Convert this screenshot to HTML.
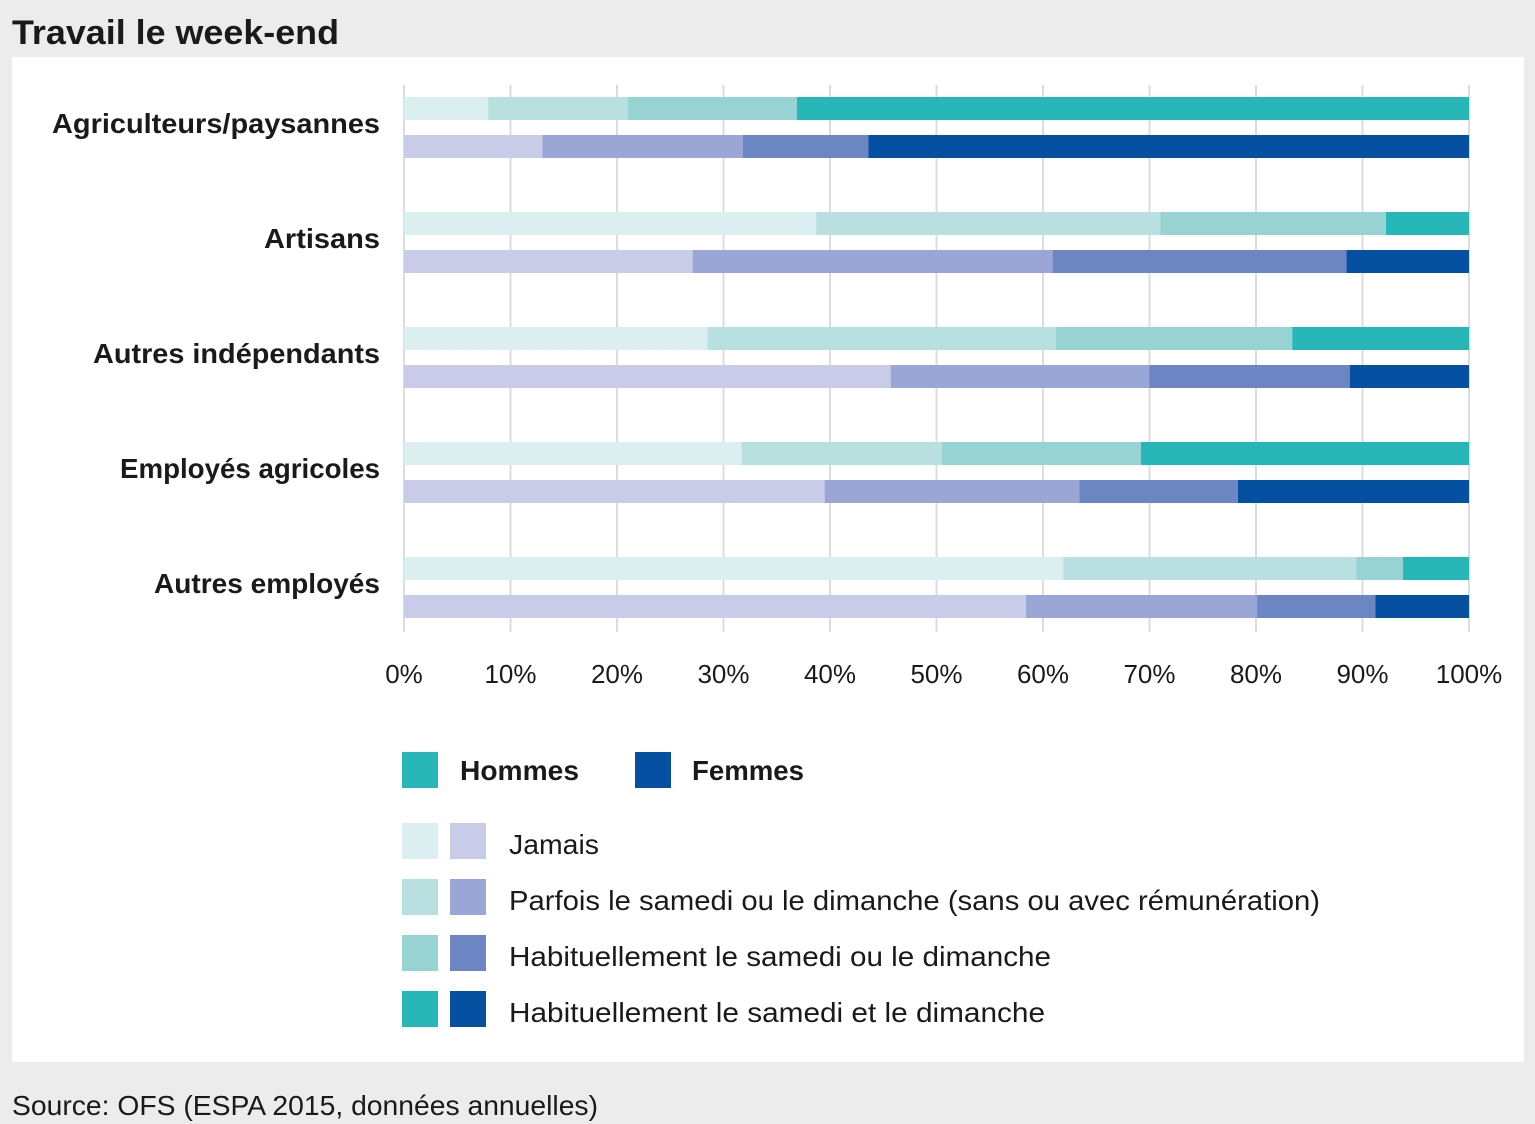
<!DOCTYPE html>
<html><head><meta charset="utf-8"><style>
html,body{margin:0;padding:0;background:#ececec;}
svg{display:block;font-family:"Liberation Sans",sans-serif;}
</style></head><body>
<svg id="chart" width="1535" height="1124" viewBox="0 0 1535 1124">
<rect x="0" y="0" width="1535" height="1124" fill="#ececec"/>
<text x="12" y="44" font-size="34" font-weight="bold" fill="#1a1a1a" textLength="327" lengthAdjust="spacingAndGlyphs">Travail le week-end</text>
<rect x="12" y="57" width="1512" height="1005" fill="#fff"/>
<g id="grid"></g>
<g id="bars"></g>
<g id="labels"></g>
<g id="legend">
<rect x="402" y="752" width="36" height="36" fill="#27b7b9"/>
<text x="460" y="780" font-size="28" font-weight="bold" fill="#1a1a1a" textLength="119" lengthAdjust="spacingAndGlyphs">Hommes</text>
<rect x="635" y="752" width="36" height="36" fill="#0550a0"/>
<text x="692" y="780" font-size="28" font-weight="bold" fill="#1a1a1a" textLength="112" lengthAdjust="spacingAndGlyphs">Femmes</text>
</g>
<text x="12" y="1115" font-size="28" fill="#1a1a1a" textLength="586" lengthAdjust="spacingAndGlyphs">Source: OFS (ESPA 2015, données annuelles)</text>
</svg>
<script>
const categories = ["Agriculteurs/paysannes","Artisans","Autres indépendants","Employés agricoles","Autres employés"];
const levels = ["Jamais","Parfois le samedi ou le dimanche (sans ou avec rémunération)","Habituellement le samedi ou le dimanche","Habituellement le samedi et le dimanche"];
const hommes = [[7.9,13.1,15.9,63.1],[38.7,32.3,21.2,7.8],[28.5,32.7,22.2,16.6],[31.7,18.8,18.7,30.8],[61.9,27.5,4.4,6.2]];
const femmes = [[13.0,18.8,11.8,56.4],[27.1,33.8,27.6,11.5],[45.7,24.3,18.8,11.2],[39.5,23.9,14.9,21.7],[58.4,21.7,11.1,8.8]];
const ticks = [0,10,20,30,40,50,60,70,80,90,100];
const hColors = ["#dbeef0","#b9e0e0","#98d3d4","#27b7b9"];
const fColors = ["#c8cce9","#99a6d6","#6c86c4","#0550a0"];
const NS="http://www.w3.org/2000/svg";
const x0=404,x1=1469;
function xs(v){return x0+(x1-x0)*v/100;}
function yGroup(i){return 97+i*115;}
const barH=23;
function mk(tag,attrs,parent){const e=document.createElementNS(NS,tag);for(const k in attrs)e.setAttribute(k,attrs[k]);parent.appendChild(e);return e;}
const grid=document.getElementById('grid'),bars=document.getElementById('bars'),labels=document.getElementById('labels'),legend=document.getElementById('legend');
ticks.forEach(t=>{
  const l=mk('line',{x1:xs(t),x2:xs(t),y1:85,y2:632,stroke:'#dcdcdc','stroke-width':2},grid);
  
  
  const tx=mk('text',{x:xs(t),y:683,'font-size':26,'text-anchor':'middle',fill:'#1a1a1a'},labels);
  tx.textContent=t+'%';
  
  
});
function drawSeries(data,colors,offset,sex){
  data.forEach((row,i)=>{
    let acc=0;
    row.forEach((v,j)=>{
      const r=mk('rect',{x:xs(acc),y:yGroup(i)+offset,width:xs(acc+v)-xs(acc),height:barH,fill:colors[j]},bars);
      
      
      acc+=v;
    });
  });
}
drawSeries(hommes,hColors,0,'hommes');
drawSeries(femmes,fColors,38,'femmes');
const labW=[328,116,287,260,226];
categories.forEach((c,i)=>{
  const t=mk('text',{x:380,y:yGroup(i)+36,'font-size':28,'font-weight':'bold','text-anchor':'end',fill:'#1a1a1a',textLength:labW[i],lengthAdjust:'spacingAndGlyphs'},labels);
  t.textContent=c;
  
  
});
const legW=[90,811,542,536];
levels.forEach((lv,j)=>{
  const y=823+j*56;
  const a=mk('rect',{x:402,y:y,width:36,height:36,fill:hColors[j]},legend);
  
  
  const b=mk('rect',{x:450,y:y,width:36,height:36,fill:fColors[j]},legend);
  
  
  const t=mk('text',{x:509,y:y+31,'font-size':28,fill:'#1a1a1a',textLength:legW[j],lengthAdjust:'spacingAndGlyphs'},legend);
  t.textContent=lv;
  
  
});
</script>
</body></html>
